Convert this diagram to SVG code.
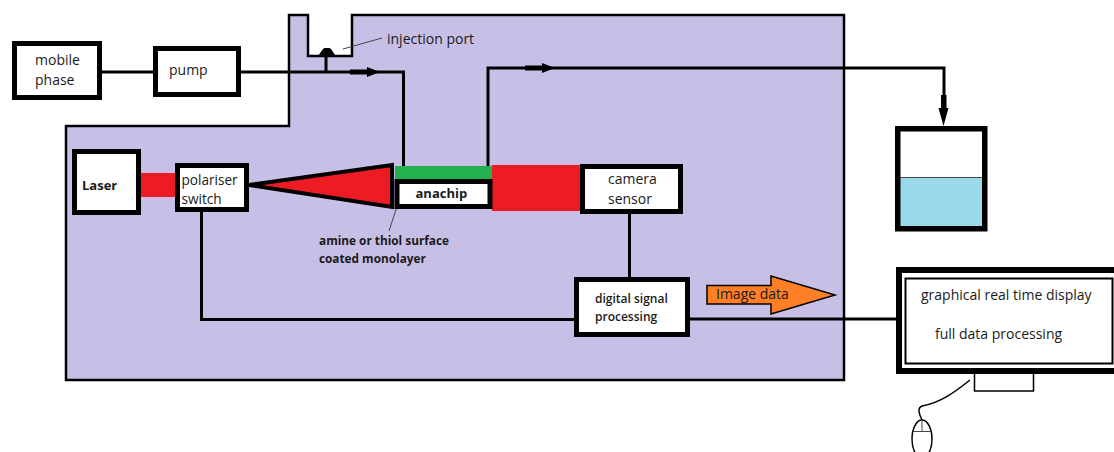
<svg xmlns="http://www.w3.org/2000/svg" width="1114" height="452" viewBox="0 0 1114 452">
<style>
text{font-family:"Open Sans","Noto Sans","Liberation Sans",sans-serif;fill:#1a1a1a;font-size:14px}
.b{font-weight:700;font-size:13px}
.s{font-weight:700;font-size:11.800px}
.d{font-weight:600;font-size:12px}
.box{fill:#fff;stroke:#000;stroke-width:5}
.c{fill:none;stroke:#000;stroke-width:3}
.thin{fill:none;stroke:#444;stroke-width:1}
.red{fill:#ed1c24}
</style>
<defs>
<marker id="inline" viewBox="0 0 30 10" refX="30" refY="5" markerWidth="30" markerHeight="10" markerUnits="userSpaceOnUse" orient="auto"><path d="M0 2.500H17V0L30 5L17 10V7.500H0Z"/></marker>
</defs>
<g id="enclosure"><path d="M66 126H289V15H308V56H352V15H844V380H66Z" fill="#c8bfe7" stroke="#000" stroke-width="2.500"/></g>
<g id="beams">
<rect class="red" x="140" y="173" width="37" height="24"/>
<rect class="red" x="492" y="165" width="90" height="46"/>
</g>
<g id="connectors">
<path class="c" d="M100 72H155"/>
<path class="c" d="M240 72H403.500V166"/>
<path class="c" d="M326 56V72"/>
<path class="c" d="M488 166V68H944V110"/>
<path d="M350 72H380" stroke="#000" stroke-width="0.500" marker-end="url(#inline)"/>
<path d="M525 68H555" stroke="#000" stroke-width="0.500" marker-end="url(#inline)"/>
<path d="M941 95H946.500V108H948.500L943.500 126L938.500 108H941Z"/>
<path class="c" d="M629.500 213V278"/>
<path class="c" d="M201.500 211V319.500H576"/>
<path class="c" d="M688 319H898"/>
<path class="thin" d="M343 49L382 38"/>
<path class="thin" d="M408 173L389 231"/>
</g>
<g id="mobile-phase"><rect class="box" x="14.500" y="43.500" width="85" height="54"/><text x="35" y="65">mobile</text><text x="35" y="85">phase</text></g>
<g id="pump"><rect class="box" x="155.500" y="48.500" width="83" height="46"/><text x="169" y="75">pump</text></g>
<g id="injection-port"><path d="M318 56C321 53 322 48.500 325 48H329C332 48.500 333 53 336 56Z"/><text x="387" y="44">injection port</text></g>
<g id="laser"><rect class="box" x="74.500" y="151.500" width="64" height="61"/><text class="b" x="82" y="190">Laser</text></g>
<g id="polariser-switch"><rect class="box" x="177.500" y="165.500" width="69" height="44"/><text x="181.500" y="185" style="font-size:13.600px">polariser</text><text x="181.500" y="204" style="font-size:13.600px">switch</text></g>
<g id="cone"><path class="red" d="M249 185L392 165V207Z" stroke="#000" stroke-width="4"/></g>
<g id="anachip">
<rect x="395" y="166" width="97" height="43" fill="#22b14c"/>
<rect x="397" y="181.500" width="93" height="25" fill="#fff" stroke="#000" stroke-width="5"/>
<text class="b" x="415.500" y="198">anachip</text>
</g>
<g id="monolayer-label"><text class="s" x="319" y="245">amine or thiol surface</text><text class="s" x="319" y="263">coated monolayer</text></g>
<g id="camera-sensor"><rect class="box" x="582.500" y="166.500" width="98" height="45"/><text x="608" y="184">camera</text><text x="608" y="204">sensor</text></g>
<g id="digital-signal-processing"><rect class="box" x="576.500" y="279.500" width="111" height="55"/><text class="d" x="595" y="303">digital signal</text><text class="d" x="595" y="321">processing</text></g>
<g id="image-data"><path d="M707 285.500H771V276L835 295L771 314V304H707Z" fill="#ff7f27" stroke="#000" stroke-width="1.500"/><text x="716" y="299">Image data</text></g>
<g id="beaker">
<rect x="897" y="129" width="88" height="100" fill="#fff"/>
<rect x="898" y="177.500" width="86" height="49" fill="#99d9ea"/>
<path d="M898 177.500H986" stroke="#444" stroke-width="1"/>
<rect x="897.750" y="128.750" width="87" height="100" fill="none" stroke="#000" stroke-width="5.500"/>
</g>
<g id="display">
<rect x="899" y="270" width="225" height="101" fill="#fff" stroke="#000" stroke-width="6"/>
<rect x="905.500" y="278.500" width="207" height="85" fill="#fff" stroke="#000" stroke-width="2"/>
<text x="921" y="300">graphical real time display</text>
<text x="935" y="339">full data processing</text>
</g>
<g id="stand"><path d="M974.500 374V391H1033.500V374" fill="#fff" stroke="#000" stroke-width="1.500"/></g>
<g id="mouse">
<path d="M970 380C955 392 940 403 922 406C917 408 919 414 922 420" fill="none" stroke="#000" stroke-width="1.500"/>
<ellipse cx="922" cy="439" rx="10" ry="19" fill="#fff" stroke="#000" stroke-width="1.500"/>
<path d="M922 420V431.500M913 431.500H931" fill="none" stroke="#444" stroke-width="1"/>
</g>
</svg>
